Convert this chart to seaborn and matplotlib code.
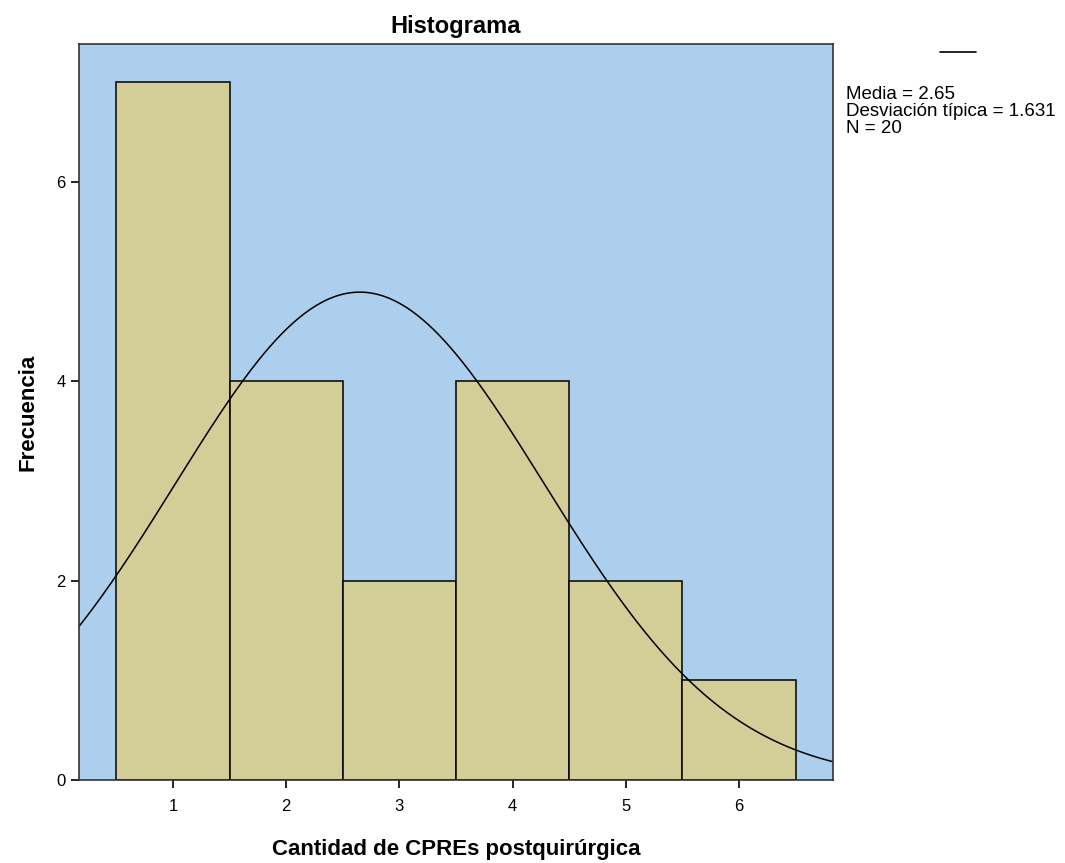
import numpy as np
import pandas as pd
import matplotlib
matplotlib.use("Agg")
import matplotlib.pyplot as plt
import seaborn as sns

# Data
values = [1, 2, 3, 4, 5, 6]
counts = [7, 4, 2, 4, 2, 1]
mean_val = 2.65
sd_val = 1.631
n_val = 20
title = "Histograma"
xlabel = "Cantidad de CPREs postquirúrgica"
ylabel = "Frecuencia"
legend_lines = ["Media = 2.65", "Desviación típica = 1.631", "N = 20"]

sns.set_style("white")
plt.rcParams['font.family'] = ['Liberation Sans', 'DejaVu Sans']
plt.rcParams['text.color'] = 'black'
plt.rcParams['axes.labelcolor'] = 'black'

fig = plt.figure(figsize=(10.65, 8.63), dpi=100)
ax = fig.add_axes([79/1065, 1-780/863, (833-79)/1065, (780-44)/863])

df = pd.DataFrame({"valor": values, "n": counts})
sns.histplot(data=df, x="valor", weights="n", discrete=True, ax=ax,
             color="#D3CE98", alpha=1, edgecolor="black", linewidth=1.1)

xs = np.linspace(0.17, 6.83, 400)
ys = n_val * 1.0 * np.exp(-0.5 * ((xs - mean_val) / sd_val) ** 2) / (sd_val * np.sqrt(2 * np.pi))
sns.lineplot(x=xs, y=ys, ax=ax, color="black", linewidth=1.1)

ax.set_facecolor("#ADCFEE")
ax.set_xlim(0.17, 6.83)
ax.set_ylim(0, 7.38)
ax.set_xticks([1, 2, 3, 4, 5, 6])
ax.set_yticks([0, 2, 4, 6])
ax.tick_params(axis="both", direction="out", length=6, width=1.2, labelsize=12,
               colors="black", bottom=True, left=True)
ax.tick_params(axis="x", pad=8)
for s in ax.spines.values():
    s.set_color("#333333")
    s.set_linewidth(1.2)

ax.set_title(title, fontsize=17, fontweight="bold", pad=8, color="black")
ax.set_xlabel(xlabel, fontsize=16, fontweight="bold", labelpad=18, color="black")
ax.set_ylabel(ylabel, fontsize=16, fontweight="bold", labelpad=13, color="black")

# legend-like annotation
fig.add_artist(plt.Line2D([940/1065, 976/1065], [1-52/863, 1-52/863], color="black", linewidth=1.2))
fig.text(846/1065, 1-86/863, "\n".join(legend_lines), fontsize=13.5, va="top", ha="left",
         linespacing=1.0, color="black")

fig.savefig("out.png", dpi=100)
